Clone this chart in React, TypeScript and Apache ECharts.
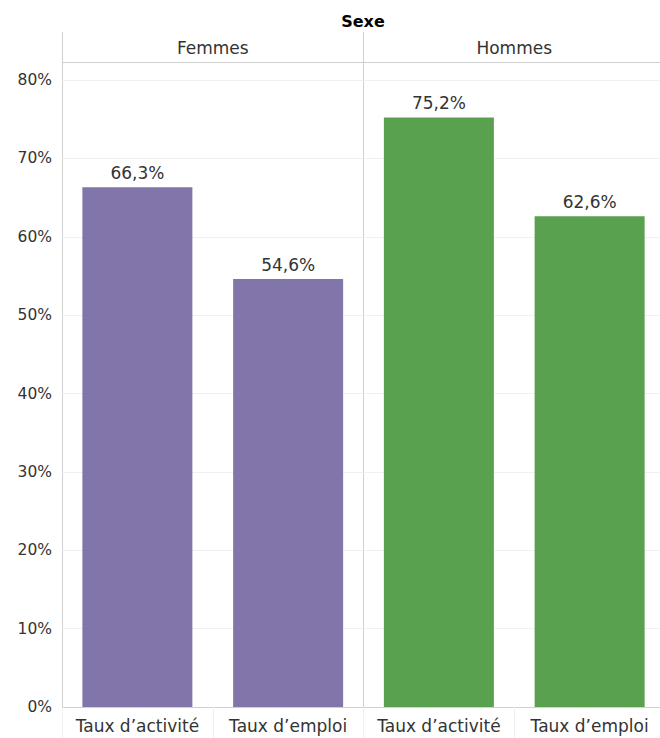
import React, { useEffect, useRef } from "react";
import * as echarts from "echarts";

const panels = ["Femmes", "Hommes"];
const categories = ["Taux d\u2019activité", "Taux d\u2019emploi"];
const femmesValues = [66.3, 54.6];
const hommesValues = [75.2, 62.6];
const panelColors = ["#8175aa", "#59a14f"];
const yTicks = [0, 10, 20, 30, 40, 50, 60, 70, 80];

const FONT = "'DejaVu Sans', sans-serif";
const TEXT = "#333333";

export default function App() {
  const ref = useRef<HTMLDivElement>(null);
  useEffect(() => {
    const chart = echarts.init(ref.current!, null, { renderer: "svg" });
    const gridTop = 80;
    const gridBottom = 738 - 707;
    const left1 = 62;
    const panelW = 301.5;
    const fmt = (v: number) => v.toFixed(1).replace(".", ",") + "%";
    const series = [femmesValues, hommesValues].map((vals, i) => ({
      type: "bar",
      xAxisIndex: i,
      yAxisIndex: i,
      data: vals,
      barWidth: 110,
      itemStyle: { color: panelColors[i] },
      label: {
        show: true,
        position: "top",
        distance: 6,
        formatter: (p: any) => fmt(p.value),
        fontFamily: FONT,
        fontSize: 17,
        color: TEXT,
      },
    }));
    const yAxisBase = {
      type: "value",
      min: yTicks[0],
      max: yTicks[yTicks.length - 1],
      interval: 10,
      axisLine: { show: false },
      axisTick: { show: false },
      splitLine: { show: true, lineStyle: { color: "#f0f0f0", width: 1 } },
    };
    const xAxisBase = {
      type: "category",
      data: categories,
      axisLine: { show: true, lineStyle: { color: "#d0d0d0", width: 1 } },
      axisTick: { show: true, length: 31, lineStyle: { color: "#f0f0f0" } },
      axisLabel: { interval: 0, fontFamily: FONT, fontSize: 17, color: TEXT, margin: 10 },
    };
    chart.setOption({
      animation: false,
      grid: [
        { left: left1, top: gridTop, width: panelW, bottom: gridBottom },
        { left: left1 + panelW, top: gridTop, width: panelW, bottom: gridBottom },
      ],
      xAxis: [
        { ...xAxisBase, gridIndex: 0 },
        { ...xAxisBase, gridIndex: 1 },
      ],
      yAxis: [
        {
          ...yAxisBase,
          gridIndex: 0,
          axisLabel: {
            formatter: "{value}%",
            fontFamily: FONT,
            fontSize: 15.5,
            color: TEXT,
            margin: 10,
          },
        },
        { ...yAxisBase, gridIndex: 1, axisLabel: { show: false } },
      ],
      series,
      graphic: [
        {
          type: "text",
          style: {
            text: "Sexe",
            x: 363,
            y: 21,
            align: "center",
            verticalAlign: "middle",
            fontFamily: FONT,
            fontWeight: "bold",
            fontSize: 16,
            fill: "#000",
          },
        },
        ...panels.map((p, i) => ({
          type: "text",
          style: {
            text: p,
            x: left1 + panelW * i + panelW / 2,
            y: 48,
            align: "center",
            verticalAlign: "middle",
            fontFamily: FONT,
            fontSize: 17,
            fill: TEXT,
          },
        })),
        {
          type: "line",
          shape: { x1: left1, y1: 62.5, x2: 680, y2: 62.5 },
          style: { stroke: "#d0d0d0", lineWidth: 1 },
        },
        {
          type: "line",
          shape: { x1: left1 + 0.5, y1: 32, x2: left1 + 0.5, y2: 738 },
          style: { stroke: "#d0d0d0", lineWidth: 1 },
        },
        {
          type: "line",
          shape: { x1: 363.5, y1: 32, x2: 363.5, y2: 738 },
          style: { stroke: "#d0d0d0", lineWidth: 1 },
        },
      ],
    });
    return () => chart.dispose();
  }, []);
  return (
    <div style={{ position: "fixed", left: 0, top: 0, width: 660, height: 738, overflow: "hidden", background: "#fff" }}>
      <div ref={ref} style={{ width: 680, height: 738 }} />
    </div>
  );
}
